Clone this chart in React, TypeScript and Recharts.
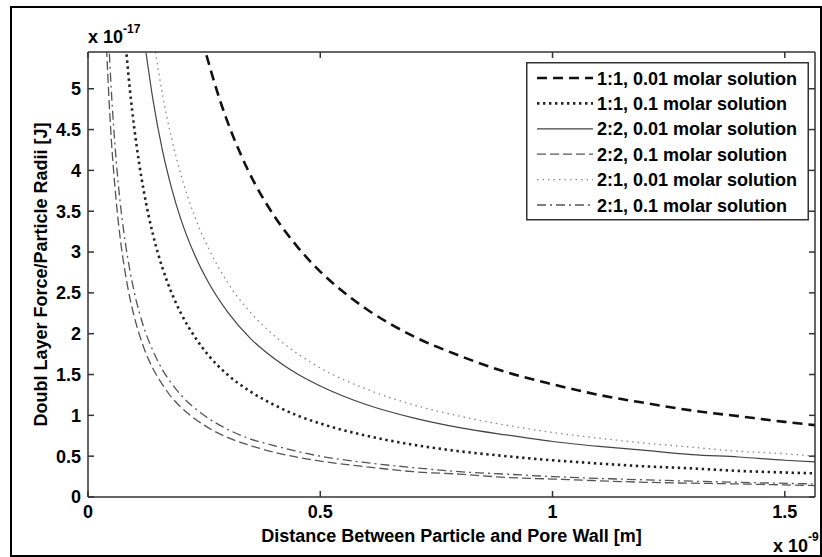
import React from 'react';
import { LineChart, Line, XAxis, YAxis } from 'recharts';

const FONT = '"Liberation Sans", Arial, Helvetica, sans-serif';

const xTicks = [0, 0.5, 1, 1.5];
const yTicks = [0, 0.5, 1, 1.5, 2, 2.5, 3, 3.5, 4, 4.5, 5];
const xDomain = [0, 1.565];
const yDomain = [0, 5.45];

const xLabel = 'Distance Between Particle and Pore Wall [m]';
const yLabel = 'Doubl Layer Force/Particle Radii [J]';

// 1:1, 0.01 molar
const xA = [0.255, 0.28, 0.3, 0.33, 0.36, 0.4, 0.45, 0.5, 0.55, 0.6, 0.7, 0.8, 0.9, 1.0, 1.1, 1.2, 1.3, 1.4, 1.5, 1.565];
const yA = [5.41, 4.93, 4.6, 4.18, 3.83, 3.45, 3.07, 2.76, 2.51, 2.3, 1.97, 1.73, 1.53, 1.38, 1.25, 1.15, 1.06, 0.99, 0.92, 0.88];
// 1:1, 0.1 molar
const xB = [0.083, 0.09, 0.1, 0.11, 0.12, 0.14, 0.16, 0.18, 0.2, 0.23, 0.26, 0.3, 0.35, 0.4, 0.45, 0.5, 0.6, 0.7, 0.8, 0.9, 1.0, 1.1, 1.2, 1.3, 1.4, 1.5, 1.565];
const yB = [5.42, 5.0, 4.5, 4.09, 3.75, 3.21, 2.81, 2.5, 2.25, 1.96, 1.73, 1.5, 1.29, 1.13, 1.0, 0.9, 0.75, 0.64, 0.56, 0.5, 0.45, 0.41, 0.375, 0.35, 0.32, 0.3, 0.29];
// 2:2, 0.01 molar
const xC = [0.125, 0.14, 0.16, 0.18, 0.2, 0.23, 0.26, 0.3, 0.35, 0.4, 0.45, 0.5, 0.6, 0.7, 0.8, 0.9, 1.0, 1.1, 1.2, 1.3, 1.4, 1.5, 1.565];
const yC = [5.44, 4.86, 4.25, 3.78, 3.4, 2.96, 2.62, 2.27, 1.94, 1.7, 1.51, 1.36, 1.13, 0.97, 0.85, 0.76, 0.68, 0.62, 0.57, 0.52, 0.49, 0.45, 0.43];
// 2:2, 0.1 molar
const xD = [0.04, 0.045, 0.05, 0.06, 0.07, 0.08, 0.09, 0.1, 0.12, 0.14, 0.16, 0.18, 0.2, 0.25, 0.3, 0.35, 0.4, 0.5, 0.6, 0.7, 0.8, 0.9, 1.0, 1.2, 1.4, 1.565];
const yD = [5.5, 4.89, 4.4, 3.67, 3.14, 2.75, 2.44, 2.2, 1.83, 1.57, 1.38, 1.22, 1.1, 0.88, 0.73, 0.63, 0.55, 0.44, 0.37, 0.31, 0.28, 0.24, 0.22, 0.18, 0.16, 0.14];
// 2:1, 0.01 molar
const xE = [0.145, 0.16, 0.18, 0.2, 0.23, 0.26, 0.3, 0.35, 0.4, 0.45, 0.5, 0.6, 0.7, 0.8, 0.9, 1.0, 1.1, 1.2, 1.3, 1.4, 1.5, 1.565];
const yE = [5.45, 4.94, 4.39, 3.95, 3.43, 3.04, 2.63, 2.26, 1.98, 1.76, 1.58, 1.32, 1.13, 0.99, 0.88, 0.79, 0.72, 0.66, 0.61, 0.56, 0.53, 0.5];
// 2:1, 0.1 molar
const xF = [0.046, 0.05, 0.06, 0.07, 0.08, 0.09, 0.1, 0.12, 0.14, 0.16, 0.18, 0.2, 0.25, 0.3, 0.35, 0.4, 0.5, 0.6, 0.7, 0.8, 0.9, 1.0, 1.2, 1.4, 1.565];
const yF = [5.43, 5.0, 4.17, 3.57, 3.13, 2.78, 2.5, 2.08, 1.79, 1.56, 1.39, 1.25, 1.0, 0.83, 0.71, 0.63, 0.5, 0.42, 0.36, 0.31, 0.28, 0.25, 0.21, 0.18, 0.16];

const seriesNames = [
  '1:1, 0.01 molar solution',
  '1:1, 0.1 molar solution',
  '2:2, 0.01 molar solution',
  '2:2, 0.1 molar solution',
  '2:1, 0.01 molar solution',
  '2:1, 0.1 molar solution',
];

const zip = (xs: number[], ys: number[]) => xs.map((x, i) => ({ x, y: ys[i] }));

const series = [
  { name: seriesNames[0], data: zip(xA, yA), stroke: '#111', width: 2.6, dash: '10 6' },
  { name: seriesNames[1], data: zip(xB, yB), stroke: '#222', width: 2.6, dash: '2.4 3.6' },
  { name: seriesNames[2], data: zip(xC, yC), stroke: '#444', width: 1.2, dash: undefined },
  { name: seriesNames[3], data: zip(xD, yD), stroke: '#555', width: 1.3, dash: '9 4' },
  { name: seriesNames[4], data: zip(xE, yE), stroke: '#888', width: 1.3, dash: '1.5 4' },
  { name: seriesNames[5], data: zip(xF, yF), stroke: '#555', width: 1.3, dash: '9 4 2 4' },
];

const W = 812;
const H = 551;
const AX = '#333';
const tickStyle = { fill: '#000', fontSize: 18, fontWeight: 700, fontFamily: FONT };

// plot area in wrapper coords: left 78, right 805, top 46, bottom 491
const PL = 78;
const PR = 805;
const PT = 46;
const PB = 491;

const BottomLabel = () => (
  <g style={{ fontFamily: FONT, fontWeight: 700 }}>
    <text x={(PL + PR) / 2} y={PB + 44.5} textAnchor="middle" fontSize={18} fill="#000">
      {xLabel}
    </text>
    <text x={PR - 42} y={PB + 55} fontSize={18} fill="#000">
      x 10<tspan dy={-11} fontSize={12}>-9</tspan>
    </text>
  </g>
);

const TopLabel = () => (
  <text x={PL} y={PT - 9} fontSize={18} fill="#000" style={{ fontFamily: FONT, fontWeight: 700 }}>
    x 10<tspan dy={-10} fontSize={12}>-17</tspan>
  </text>
);

const LeftLabel = () => {
  const cx = PL - 41.5;
  const cy = (PT + PB) / 2;
  return (
    <text
      x={cx}
      y={cy}
      transform={`rotate(-90 ${cx} ${cy})`}
      textAnchor="middle"
      fontSize={18}
      fill="#000"
      style={{ fontFamily: FONT, fontWeight: 700 }}
    >
      {yLabel}
    </text>
  );
};

const LegendBox = () => {
  const rowH = 25.4;
  return (
    <svg
      width={284}
      height={160}
      style={{ position: 'absolute', left: 516, top: 56, overflow: 'visible' }}
    >
      <rect x={0.75} y={0.75} width={281.5} height={157} fill="#fff" stroke="#333" strokeWidth={1.5} />
      {series.map((s, i) => {
        const cy = 16 + i * rowH;
        return (
          <g key={s.name}>
            <line
              x1={11}
              x2={67}
              y1={cy}
              y2={cy}
              stroke={s.stroke}
              strokeWidth={s.width}
              strokeDasharray={s.dash}
            />
            <text x={71} y={cy + 6.5} fontSize={18} fontWeight={700} fill="#000" style={{ fontFamily: FONT }}>
              {s.name}
            </text>
          </g>
        );
      })}
    </svg>
  );
};

export default function App() {
  return (
    <div style={{ position: 'absolute', left: 10, top: 6, width: W, height: H, background: '#fff' }}>
      <LineChart
        width={W}
        height={H}
        margin={{ top: PT - 10, right: W - PR - 5, bottom: H - PB - 30, left: PL - 60 }}
      >
        <XAxis
          xAxisId="b"
          type="number"
          dataKey="x"
          domain={xDomain}
          ticks={xTicks}
          allowDataOverflow
          height={30}
          tickSize={-6}
          tickMargin={14}
          stroke={AX}
          strokeWidth={1.5}
          tick={tickStyle}
          label={<BottomLabel />}
        />
        <XAxis
          xAxisId="t"
          orientation="top"
          type="number"
          dataKey="x"
          domain={xDomain}
          ticks={xTicks}
          allowDataOverflow
          height={10}
          tickSize={-6}
          stroke={AX}
          strokeWidth={1.5}
          tickFormatter={() => ''}
          label={<TopLabel />}
        />
        <YAxis
          yAxisId="l"
          type="number"
          domain={yDomain}
          ticks={yTicks}
          allowDataOverflow
          width={60}
          tickSize={-6}
          tickMargin={13}
          stroke={AX}
          strokeWidth={1.5}
          tick={tickStyle}
          label={<LeftLabel />}
        />
        <YAxis
          yAxisId="r"
          orientation="right"
          type="number"
          domain={yDomain}
          ticks={yTicks}
          allowDataOverflow
          width={5}
          tickSize={-6}
          stroke={AX}
          strokeWidth={1.5}
          tickFormatter={() => ''}
        />
        {series.map((s) => (
          <Line
            key={s.name}
            xAxisId="b"
            yAxisId="l"
            data={s.data}
            dataKey="y"
            name={s.name}
            type="monotone"
            stroke={s.stroke}
            strokeWidth={s.width}
            strokeDasharray={s.dash}
            dot={false}
            activeDot={false}
            isAnimationActive={false}
          />
        ))}
      </LineChart>
      <LegendBox />
      <div
        style={{
          position: 'absolute',
          left: 0,
          top: 0,
          width: W,
          height: H,
          border: '2.5px solid #000',
          boxSizing: 'border-box',
          pointerEvents: 'none',
        }}
      />
    </div>
  );
}
